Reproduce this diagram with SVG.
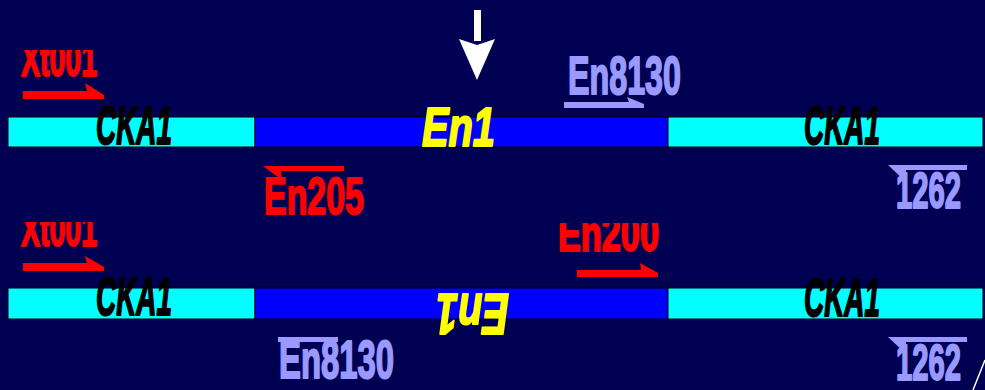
<svg xmlns="http://www.w3.org/2000/svg" width="985" height="390" viewBox="0 0 985 390">
  <style>
    .lbl { font-family: "Liberation Sans", Arial, sans-serif; font-weight: bold; stroke-width: 2; stroke-linejoin: round; }
    .ital { font-style: italic; }
    .red { fill: #ff0000; stroke: #ff0000; }
    .lav { fill: #9999ff; stroke: #9999ff; }
    .blk { fill: #000000; stroke: #000000; }
    .yel { fill: #ffff00; stroke: #ffff00; }
    .cyan { fill: #00ffff; stroke: #000000; stroke-width: 1; }
    .blue { fill: #0000ff; stroke: #000000; stroke-width: 1; }
    .arrow-red { fill: #ff0000; }
    .arrow-lav { fill: #9999ff; }
  </style>
  <defs>
    <clipPath id="clipTopLeft"><rect x="0" y="50" width="200" height="40"/></clipPath>
    <clipPath id="clipBotLeft"><rect x="0" y="222" width="200" height="40"/></clipPath>
    <clipPath id="clipBotMid"><rect x="540" y="223" width="200" height="40"/></clipPath>
  </defs>

  <rect width="985" height="390" fill="#000052"/>

  <!-- upper construct -->
  <g id="construct-top">
    <rect class="cyan" x="8" y="117" width="247" height="30"/>
    <rect class="blue" x="255" y="117" width="413" height="30"/>
    <rect class="cyan" x="668" y="117" width="315" height="30"/>
    <text class="lbl ital blk" x="96" y="144" font-size="54" textLength="76" lengthAdjust="spacingAndGlyphs">CKA1</text>
    <text class="lbl ital blk" x="804" y="144" font-size="54" textLength="76" lengthAdjust="spacingAndGlyphs">CKA1</text>
    <text class="lbl ital yel" x="422" y="146" font-size="56" textLength="73" lengthAdjust="spacingAndGlyphs">En1</text>
  </g>

  <!-- lower construct, insert reversed -->
  <g id="construct-bottom">
    <rect class="cyan" x="8" y="288" width="247" height="31"/>
    <rect class="blue" x="255" y="288" width="413" height="31"/>
    <rect class="cyan" x="668" y="288" width="315" height="31"/>
    <text class="lbl ital blk" x="96" y="315" font-size="54" textLength="76" lengthAdjust="spacingAndGlyphs">CKA1</text>
    <text class="lbl ital blk" x="804" y="316" font-size="54" textLength="76" lengthAdjust="spacingAndGlyphs">CKA1</text>
    <text class="lbl ital yel" x="436" y="336" font-size="58" textLength="73" lengthAdjust="spacingAndGlyphs" transform="rotate(180 472.5 315)">En1</text>
  </g>

  <!-- primer labels -->
  <g id="primer-xt-top">
    <text class="lbl red" x="21" y="76" font-size="48" textLength="76" lengthAdjust="spacingAndGlyphs" clip-path="url(#clipTopLeft)">Xt001</text>
  </g>
  <g id="primer-xt-bottom">
    <text class="lbl red" x="21" y="246" font-size="48" textLength="76" lengthAdjust="spacingAndGlyphs" clip-path="url(#clipBotLeft)">Xt001</text>
  </g>
  <g id="primer-en8130-top">
    <text class="lbl lav" x="568" y="94" font-size="54" textLength="113" lengthAdjust="spacingAndGlyphs">En8130</text>
  </g>
  <g id="primer-en205">
    <text class="lbl red" x="264" y="214" font-size="52" textLength="100" lengthAdjust="spacingAndGlyphs">En205</text>
  </g>
  <g id="primer-1262-top">
    <text class="lbl lav" x="896" y="208" font-size="50" textLength="65" lengthAdjust="spacingAndGlyphs">1262</text>
  </g>
  <g id="primer-en200">
    <text class="lbl red" x="558" y="251" font-size="50" textLength="101" lengthAdjust="spacingAndGlyphs" clip-path="url(#clipBotMid)">En200</text>
  </g>
  <g id="primer-en8130-bottom">
    <text class="lbl lav" x="279" y="378" font-size="54" textLength="115" lengthAdjust="spacingAndGlyphs">En8130</text>
  </g>
  <g id="primer-1262-bottom">
    <text class="lbl lav" x="896" y="380" font-size="50" textLength="65" lengthAdjust="spacingAndGlyphs">1262</text>
  </g>

  <!-- primer direction arrows and markers -->
  <g id="connectors">
    <!-- forward half-arrows -->
    <polygon class="arrow-red" points="23,91 87,91 85,83 104,95 104,99 23,99"/>
    <polygon class="arrow-red" points="23,263 87,263 85,256 104,267 104,271 23,271"/>
    <polygon class="arrow-red" points="577,270 641,270 640,263 658,273 658,277 577,277"/>
    <polygon class="arrow-lav" points="564,102 629,102 627,97 644,104 644,108 564,108"/>
    <!-- reverse half-arrows -->
    <polygon class="arrow-red" points="263,166 344,166 344,171 281,171 282,180"/>
    <polygon class="arrow-lav" points="888,165 967,165 967,170 906,170 905,181"/>
    <polygon class="arrow-lav" points="888,337 967,337 967,342 906,342 905,353"/>
    <polygon class="arrow-lav" points="278,337 338,337 338,342 278,342"/>
    <!-- insertion site marker -->
    <rect x="474" y="10" width="7" height="31" fill="#ffffff"/>
    <polygon points="459,39 477,45 495,39 477,80" fill="#ffffff"/>
    <line x1="973" y1="390" x2="985" y2="360" stroke="#ffffff" stroke-width="1.5"/>
  </g>
</svg>
